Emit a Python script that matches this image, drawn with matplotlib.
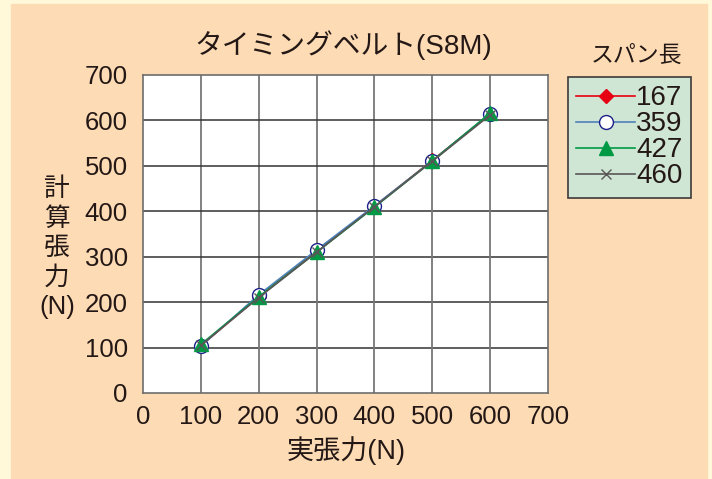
import matplotlib.pyplot as plt
from matplotlib.lines import Line2D
from matplotlib.patches import Rectangle

plt.rcParams["font.family"] = ["Liberation Sans", "Noto Sans CJK JP", "DejaVu Sans"]

# data
actual = [100, 200, 300, 400, 500, 600]
spans = ["167", "359", "427", "460"]
calc_167 = [104, 212, 312, 411, 512, 614]
calc_359 = [103, 216, 315, 412, 511, 615]
calc_427 = [107, 212, 310, 409, 511, 616]
calc_460 = [105, 210, 310, 410, 510, 612]
ticks = [0, 100, 200, 300, 400, 500, 600, 700]

txt = "#231815"
fs = 18.5

fig = plt.figure(figsize=(7.12, 4.79), dpi=100, facecolor="#FFF9DA")
fig.patches.append(Rectangle((11 / 712, 0), 696 / 712, 475 / 479,
                             transform=fig.transFigure, color="#FDDBB5",
                             zorder=-10))

ax = fig.add_axes([143 / 712, 86 / 479, 405 / 712, 318 / 479])
ax.set_facecolor("white")

styles = [
    (calc_167, dict(color="#E60012", marker="D", ms=7, mfc="#E60012", mec="#E60012")),
    (calc_359, dict(color="#4F81BD", marker="o", ms=10, mfc="white", mec="#1D2088")),
    (calc_427, dict(color="#009944", marker="^", ms=10, mfc="#009944", mec="#009944")),
    (calc_460, dict(color="#595757", marker="x", ms=7, mfc="none", mec="#595757")),
]
for vals, st in styles:
    ax.plot(actual, vals, lw=1.2, mew=1.0, **st)

ax.set_xlim(0, 700)
ax.set_ylim(0, 700)
ax.set_xticks(ticks)
ax.set_yticks(ticks)
for t in ticks[1:-1]:
    ax.axvline(t, color="#777777", lw=1.3, zorder=0)
    ax.axhline(t, color="#333333", lw=1.1, zorder=0)
for s in ax.spines.values():
    s.set_color("#6d6d6d")
    s.set_linewidth(1.2)
ax.tick_params(length=0, labelsize=fs, labelcolor=txt)
ax.tick_params(axis="y", pad=11)
ax.tick_params(axis="x", pad=9)

fig.text(343 / 712, 1 - 45 / 479, "タイミングベルト(S8M)", ha="center", va="center",
         fontsize=fs + 1.5, color=txt)
fig.text(346 / 712, 1 - 451 / 479, "実張力(N)", ha="center", va="center",
         fontsize=fs + 1, color=txt)
for i, ch in enumerate(["計", "算", "張", "力"]):
    fig.text(57 / 712, 1 - (189 + 29.5 * i) / 479, ch, ha="center", va="center",
             fontsize=fs, color=txt)
fig.text(57 / 712, 1 - 307 / 479, "(N)", ha="center", va="center",
         fontsize=fs, color=txt)

# legend: title sits above the box
fig.text(636 / 712, 1 - 55 / 479, "スパン長", ha="center", va="center",
         fontsize=fs - 2, color=txt)
handles = [Line2D([], [], lw=1.2, mew=1.0, **st) for _, st in styles]
leg = fig.legend(handles, spans, loc="upper left",
                 bbox_to_anchor=(568 / 712, 1 - 77 / 479),
                 fontsize=20, handlelength=2.1, handletextpad=0.05,
                 labelspacing=0.0, borderpad=0.3, borderaxespad=0,
                 fancybox=False, framealpha=1, facecolor="#CFE6D4",
                 edgecolor="#3e3a39")
leg.get_frame().set_linewidth(1.2)
for t in leg.get_texts():
    t.set_color(txt)

fig.savefig("out.png", dpi=100, facecolor=fig.get_facecolor())
